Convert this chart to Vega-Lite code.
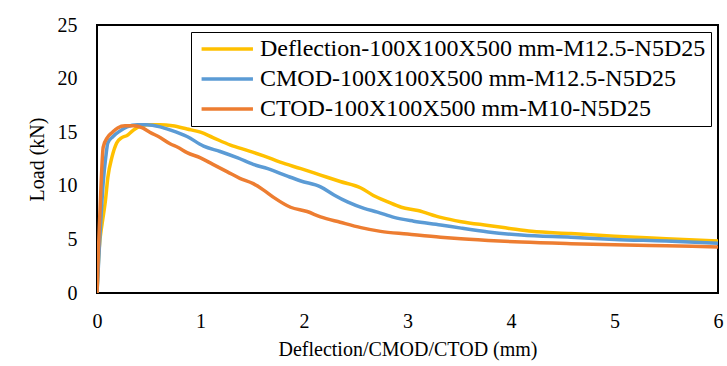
{
  "$schema": "https://vega.github.io/schema/vega-lite/v6.json",
  "autosize": {"type": "none"},
  "width": 621,
  "height": 268,
  "padding": {"left": 97, "top": 25, "right": 9, "bottom": 73},
  "background": "white",
  "config": {
    "view": {"stroke": "black", "strokeWidth": 2},
    "font": "Liberation Serif"
  },
  "datasets": {
    "pts": [
      {"s": "D", "x": 0, "y": 0}, {"s": "D", "x": 0.02, "y": 4.0}, {"s": "D", "x": 0.05, "y": 6.5}, {"s": "D", "x": 0.08, "y": 8.5}, {"s": "D", "x": 0.105, "y": 10.8}, {"s": "D", "x": 0.145, "y": 12.7}, {"s": "D", "x": 0.19, "y": 14.0}, {"s": "D", "x": 0.24, "y": 14.5}, {"s": "D", "x": 0.29, "y": 14.7}, {"s": "D", "x": 0.34, "y": 15.1}, {"s": "D", "x": 0.4, "y": 15.5}, {"s": "D", "x": 0.485, "y": 15.7}, {"s": "D", "x": 0.61, "y": 15.7}, {"s": "D", "x": 0.73, "y": 15.6}, {"s": "D", "x": 0.87, "y": 15.3}, {"s": "D", "x": 1.0, "y": 15.0}, {"s": "D", "x": 1.12, "y": 14.5}, {"s": "D", "x": 1.29, "y": 13.8}, {"s": "D", "x": 1.45, "y": 13.3}, {"s": "D", "x": 1.61, "y": 12.8}, {"s": "D", "x": 1.77, "y": 12.2}, {"s": "D", "x": 1.97, "y": 11.6}, {"s": "D", "x": 2.16, "y": 11.0}, {"s": "D", "x": 2.35, "y": 10.4}, {"s": "D", "x": 2.55, "y": 9.8}, {"s": "D", "x": 2.67, "y": 9.1}, {"s": "D", "x": 2.81, "y": 8.5}, {"s": "D", "x": 2.94, "y": 8.0}, {"s": "D", "x": 3.1, "y": 7.7}, {"s": "D", "x": 3.32, "y": 7.05}, {"s": "D", "x": 3.52, "y": 6.65}, {"s": "D", "x": 3.78, "y": 6.3}, {"s": "D", "x": 3.97, "y": 6.05}, {"s": "D", "x": 4.2, "y": 5.75}, {"s": "D", "x": 4.58, "y": 5.55}, {"s": "D", "x": 5.0, "y": 5.3}, {"s": "D", "x": 5.5, "y": 5.07}, {"s": "D", "x": 6.0, "y": 4.85},
      {"s": "C", "x": 0, "y": 0}, {"s": "C", "x": 0.03, "y": 5.6}, {"s": "C", "x": 0.06, "y": 10.3}, {"s": "C", "x": 0.085, "y": 12.7}, {"s": "C", "x": 0.105, "y": 14.0}, {"s": "C", "x": 0.155, "y": 14.6}, {"s": "C", "x": 0.22, "y": 15.1}, {"s": "C", "x": 0.29, "y": 15.5}, {"s": "C", "x": 0.39, "y": 15.7}, {"s": "C", "x": 0.48, "y": 15.7}, {"s": "C", "x": 0.61, "y": 15.5}, {"s": "C", "x": 0.71, "y": 15.2}, {"s": "C", "x": 0.87, "y": 14.6}, {"s": "C", "x": 1.03, "y": 13.7}, {"s": "C", "x": 1.19, "y": 13.2}, {"s": "C", "x": 1.36, "y": 12.6}, {"s": "C", "x": 1.51, "y": 12.0}, {"s": "C", "x": 1.65, "y": 11.6}, {"s": "C", "x": 1.84, "y": 10.9}, {"s": "C", "x": 1.97, "y": 10.45}, {"s": "C", "x": 2.16, "y": 9.9}, {"s": "C", "x": 2.29, "y": 9.15}, {"s": "C", "x": 2.42, "y": 8.5}, {"s": "C", "x": 2.58, "y": 7.9}, {"s": "C", "x": 2.71, "y": 7.55}, {"s": "C", "x": 2.87, "y": 7.05}, {"s": "C", "x": 3.06, "y": 6.7}, {"s": "C", "x": 3.32, "y": 6.35}, {"s": "C", "x": 3.52, "y": 6.05}, {"s": "C", "x": 3.78, "y": 5.7}, {"s": "C", "x": 4.1, "y": 5.4}, {"s": "C", "x": 4.58, "y": 5.2}, {"s": "C", "x": 5.0, "y": 5.0}, {"s": "C", "x": 5.5, "y": 4.85}, {"s": "C", "x": 6.0, "y": 4.65},
      {"s": "T", "x": 0, "y": 0}, {"s": "T", "x": 0.02, "y": 5.6}, {"s": "T", "x": 0.04, "y": 10.3}, {"s": "T", "x": 0.06, "y": 13.6}, {"s": "T", "x": 0.1, "y": 14.5}, {"s": "T", "x": 0.15, "y": 15.0}, {"s": "T", "x": 0.2, "y": 15.4}, {"s": "T", "x": 0.27, "y": 15.6}, {"s": "T", "x": 0.35, "y": 15.6}, {"s": "T", "x": 0.44, "y": 15.4}, {"s": "T", "x": 0.51, "y": 15.0}, {"s": "T", "x": 0.61, "y": 14.5}, {"s": "T", "x": 0.71, "y": 13.9}, {"s": "T", "x": 0.78, "y": 13.6}, {"s": "T", "x": 0.87, "y": 13.1}, {"s": "T", "x": 1.0, "y": 12.6}, {"s": "T", "x": 1.12, "y": 12.0}, {"s": "T", "x": 1.26, "y": 11.3}, {"s": "T", "x": 1.38, "y": 10.7}, {"s": "T", "x": 1.51, "y": 10.2}, {"s": "T", "x": 1.61, "y": 9.6}, {"s": "T", "x": 1.71, "y": 8.9}, {"s": "T", "x": 1.87, "y": 8.0}, {"s": "T", "x": 2.03, "y": 7.6}, {"s": "T", "x": 2.16, "y": 7.1}, {"s": "T", "x": 2.35, "y": 6.6}, {"s": "T", "x": 2.55, "y": 6.1}, {"s": "T", "x": 2.74, "y": 5.75}, {"s": "T", "x": 3.0, "y": 5.5}, {"s": "T", "x": 3.32, "y": 5.2}, {"s": "T", "x": 3.45, "y": 5.1}, {"s": "T", "x": 3.78, "y": 4.9}, {"s": "T", "x": 4.1, "y": 4.75}, {"s": "T", "x": 4.58, "y": 4.6}, {"s": "T", "x": 5.0, "y": 4.5}, {"s": "T", "x": 5.5, "y": 4.4}, {"s": "T", "x": 6.0, "y": 4.3}
    ]
  },
  "data": {"name": "pts"},
  "mark": {"type": "line", "strokeWidth": 3.5, "interpolate": "monotone", "clip": true},
  "encoding": {
    "x": {
      "field": "x", "type": "quantitative",
      "scale": {"domain": [0, 6], "nice": false},
      "axis": {"title": "Deflection/CMOD/CTOD (mm)", "values": [0, 1, 2, 3, 4, 5, 6], "grid": false, "ticks": false, "domain": false,
        "labelFontSize": 20, "titleFontSize": 20, "titleFontWeight": "normal", "labelColor": "black", "titleColor": "black", "labelPadding": 18, "titlePadding": 8, "labelFlush": false}
    },
    "y": {
      "field": "y", "type": "quantitative",
      "scale": {"domain": [0, 25], "nice": false},
      "axis": {"title": "Load (kN)", "values": [0, 5, 10, 15, 20, 25], "grid": false, "ticks": false, "domain": false,
        "labelFontSize": 20, "titleFontSize": 20, "titleFontWeight": "normal", "labelColor": "black", "titleColor": "black", "labelPadding": 20, "titlePadding": 10, "labelFlush": false}
    },
    "color": {
      "field": "s", "type": "nominal",
      "scale": {"domain": ["D", "C", "T"], "range": ["#FFC000", "#5B9BD5", "#ED7D31"]},
      "legend": {
        "title": null, "orient": "none", "legendX": 94, "legendY": 7,
        "labelExpr": "datum.value == 'D' ? 'Deflection-100X100X500 mm-M12.5-N5D25' : datum.value == 'C' ? 'CMOD-100X100X500 mm-M12.5-N5D25' : 'CTOD-100X100X500 mm-M10-N5D25'",
        "symbolType": "M-1,0H7", "symbolSize": 165, "symbolStrokeWidth": 3.5,
        "labelFontSize": 24, "labelColor": "black", "labelLimit": 600, "labelOffset": 40,
        "rowPadding": 6, "strokeColor": "black", "padding": 5, "fillColor": "white"
      }
    }
  }
}
